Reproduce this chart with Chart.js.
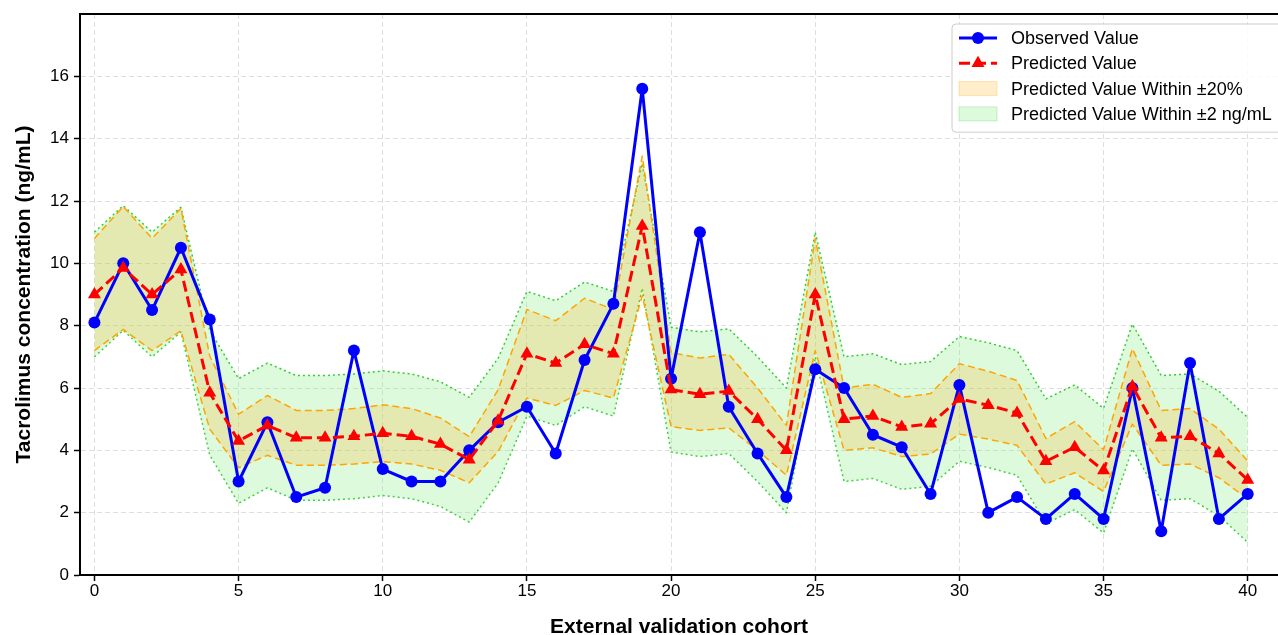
<!DOCTYPE html>
<html>
<head>
<meta charset="utf-8">
<script src="https://cdn.jsdelivr.net/npm/chart.js@4.4.1/dist/chart.umd.min.js"></script>
<style>
  html, body { margin: 0; padding: 0; background: #fff; }
  .wrapper { width: 1278px; height: 635px; position: relative; }
</style>
</head>
<body>
<div class="wrapper"><canvas id="validation__chart"></canvas></div>
<script>
const cohort = [
  0, 1, 2, 3, 4, 5, 6, 7, 8, 9, 10, 11, 12, 13, 14, 15, 16, 17, 18, 19, 20,
  21, 22, 23, 24, 25, 26, 27, 28, 29, 30, 31, 32, 33, 34, 35, 36, 37, 38, 39, 40,
];
const observed = [
  8.1, 10.0, 8.5, 10.5, 8.2, 3.0, 4.9, 2.5, 2.8, 7.2, 3.4, 3.0, 3.0, 4.0, 4.9,
  5.4, 3.9, 6.9, 8.7, 15.6, 6.3, 11.0, 5.4, 3.9, 2.5, 6.6, 6.0, 4.5, 4.1, 2.6,
  6.1, 2.0, 2.5, 1.8, 2.6, 1.8, 6.0, 1.4, 6.8, 1.8, 2.6,
];
const predicted = [
  9.0, 9.85, 9.0, 9.8, 5.85, 4.3, 4.8, 4.4, 4.4, 4.45, 4.55, 4.45, 4.2, 3.7,
  4.95, 7.1, 6.8, 7.4, 7.1, 11.2, 5.95, 5.8, 5.9, 5.0, 4.0, 9.0, 5.0, 5.1, 4.75,
  4.85, 5.65, 5.45, 5.2, 3.65, 4.1, 3.35, 6.05, 4.4, 4.45, 3.9, 3.05,
];
const xTicks = [0, 5, 10, 15, 20, 25, 30, 35, 40];
const yTicks = [0, 2, 4, 6, 8, 10, 12, 14, 16];

const FONT = "'Liberation Sans', Arial, sans-serif";

function points(values) {
  return cohort.map((x, i) => ({ x: x, y: values[i] }));
}

// bands around the prediction
const pctUpper = predicted.map((v) => v * 1.2);
const pctLower = predicted.map((v) => v * 0.8);
const absUpper = predicted.map((v) => v + 2);
const absLower = predicted.map((v) => v - 2);

const topSpine = {
  id: "topSpine",
  afterDatasetsDraw(chart) {
    const { ctx, chartArea } = chart;
    ctx.save();
    ctx.strokeStyle = "#000";
    ctx.lineWidth = 2;
    ctx.beginPath();
    ctx.moveTo(chartArea.left - 1, chartArea.top);
    ctx.lineTo(chartArea.right, chartArea.top);
    ctx.stroke();
    ctx.restore();
  },
};

const boxLegend = {
  id: "boxLegend",
  afterDraw(chart) {
    const { ctx, chartArea } = chart;
    const ds = chart.data.datasets;
    const items = [
      { type: "line", d: ds[1] },
      { type: "line", d: ds[0] },
      { type: "patch", d: ds[2] },
      { type: "patch", d: ds[4] },
    ];
    const left = chartArea.right - 326;
    const top = chartArea.top + 10;
    const rowH = 25.3;

    ctx.save();
    ctx.beginPath();
    ctx.roundRect(left, top, 340, rowH * 4 + 7, 4);
    ctx.fillStyle = "rgba(255,255,255,0.85)";
    ctx.fill();
    ctx.strokeStyle = "#cccccc";
    ctx.lineWidth = 1;
    ctx.stroke();

    items.forEach((item, i) => {
      const cy = top + 14 + i * rowH;
      const x0 = left + 7;
      const x1 = left + 45;
      const cx = (x0 + x1) / 2;
      const d = item.d;
      if (item.type === "line") {
        ctx.save();
        ctx.strokeStyle = d.borderColor;
        ctx.lineWidth = d.borderWidth;
        ctx.setLineDash(d.borderDash || []);
        ctx.beginPath();
        ctx.moveTo(x0, cy);
        ctx.lineTo(x1, cy);
        ctx.stroke();
        ctx.restore();
        ctx.fillStyle = d.pointBackgroundColor;
        ctx.beginPath();
        if (d.pointStyle === "circle") {
          ctx.arc(cx, cy, d.pointRadius, 0, Math.PI * 2);
        } else {
          const r = d.pointRadius;
          ctx.moveTo(cx, cy - r);
          ctx.lineTo(cx + r * 0.866, cy + r * 0.5);
          ctx.lineTo(cx - r * 0.866, cy + r * 0.5);
          ctx.closePath();
        }
        ctx.fill();
      } else {
        ctx.fillStyle = d.backgroundColor;
        ctx.fillRect(x0, cy - 7, x1 - x0, 14);
        ctx.strokeStyle = d.legendEdge;
        ctx.lineWidth = 1;
        ctx.strokeRect(x0, cy - 7, x1 - x0, 14);
      }
      ctx.fillStyle = "#000";
      ctx.font = "18px " + FONT;
      ctx.textBaseline = "middle";
      ctx.textAlign = "left";
      ctx.fillText(d.label, left + 59, cy + 1);
    });
    ctx.restore();
  },
};

function init() {
  const canvas = document.querySelector("#validation__chart");

  const datasets = [
    {
      label: "Predicted Value",
      data: points(predicted),
      borderColor: "#ff0000",
      borderWidth: 3,
      borderDash: [11, 5],
      borderJoinStyle: "round",
      pointStyle: "triangle",
      pointRadius: 7.5,
      pointBackgroundColor: "#ff0000",
      pointBorderWidth: 0,
      fill: false,
    },
    {
      label: "Observed Value",
      data: points(observed),
      borderColor: "#0000ff",
      borderWidth: 3,
      borderJoinStyle: "round",
      pointStyle: "circle",
      pointRadius: 6,
      pointBackgroundColor: "#0000ff",
      pointBorderWidth: 0,
      fill: false,
    },
    {
      label: "Predicted Value Within ±20%",
      data: points(pctUpper),
      borderColor: "#ffa500",
      borderWidth: 1.5,
      borderDash: [7, 4],
      borderJoinStyle: "round",
      pointRadius: 0,
      backgroundColor: "rgba(255,165,0,0.2)",
      legendEdge: "rgba(255,165,0,0.25)",
      fill: "+1",
    },
    {
      label: "pct lower",
      data: points(pctLower),
      borderColor: "#ffa500",
      borderWidth: 1.5,
      borderDash: [7, 4],
      borderJoinStyle: "round",
      pointRadius: 0,
      fill: false,
    },
    {
      label: "Predicted Value Within ±2 ng/mL",
      data: points(absUpper),
      borderColor: "#32cd32",
      borderWidth: 1.5,
      borderDash: [2, 3],
      borderJoinStyle: "round",
      pointRadius: 0,
      backgroundColor: "rgba(144,238,144,0.3)",
      legendEdge: "rgba(50,205,50,0.25)",
      fill: "+1",
    },
    {
      label: "abs lower",
      data: points(absLower),
      borderColor: "#32cd32",
      borderWidth: 1.5,
      borderDash: [2, 3],
      borderJoinStyle: "round",
      pointRadius: 0,
      fill: false,
    },
  ];

  const gridColor = "rgba(200,200,200,0.6)";

  new Chart(canvas, {
    type: "line",
    data: { datasets: datasets },
    options: {
      responsive: true,
      maintainAspectRatio: false,
      animation: false,
      elements: { line: { tension: 0 } },
      layout: {
        autoPadding: false,
        padding: { top: 14, right: 0, bottom: 0, left: 0 },
      },
      plugins: {
        legend: { display: false },
        tooltip: { enabled: false },
      },
      scales: {
        x: {
          type: "linear",
          min: -0.5,
          max: 41.05,
          afterBuildTicks: (scale) => {
            scale.ticks = xTicks.map((v) => ({ value: v }));
          },
          afterFit: (scale) => {
            scale.height = 60;
            scale.paddingLeft = 0;
            scale.paddingRight = 0;
          },
          grid: {
            color: gridColor,
            lineWidth: 1,
            tickLength: 6,
            tickColor: "#000",
            tickWidth: 1.5,
            tickBorderDash: [],
          },
          border: { color: "#000", width: 2, dash: [5, 3] },
          ticks: {
            color: "#000",
            padding: 0,
            font: { family: FONT, size: 17 },
            maxRotation: 0,
          },
          title: {
            display: true,
            text: "External validation cohort",
            color: "#000",
            font: { family: FONT, size: 21, weight: "bold" },
            padding: { top: 0, bottom: -5 },
          },
        },
        y: {
          min: 0,
          max: 18,
          afterBuildTicks: (scale) => {
            scale.ticks = yTicks.map((v) => ({ value: v }));
          },
          afterFit: (scale) => {
            scale.width = 80;
            scale.paddingTop = 0;
            scale.paddingBottom = 0;
          },
          grid: {
            color: gridColor,
            lineWidth: 1,
            tickLength: 6,
            tickColor: "#000",
            tickWidth: 1.5,
            tickBorderDash: [],
          },
          border: { color: "#000", width: 2, dash: [5, 3] },
          ticks: {
            color: "#000",
            padding: 5,
            font: { family: FONT, size: 17 },
          },
          title: {
            display: true,
            text: "Tacrolimus concentration (ng/mL)",
            color: "#000",
            font: { family: FONT, size: 21, weight: "bold" },
            padding: { top: 12, bottom: 0 },
          },
        },
      },
    },
    plugins: [topSpine, boxLegend],
  });
}

init();
</script>
</body>
</html>
